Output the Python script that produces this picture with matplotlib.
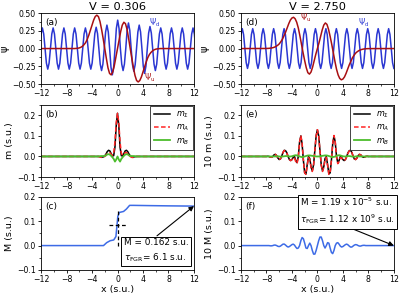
import numpy as np
import matplotlib
matplotlib.use("Agg")
import matplotlib.pyplot as plt
from matplotlib.ticker import MultipleLocator, AutoMinorLocator

# ---------------- data ----------------
titles = ["V = 0.306", "V = 2.750"]

# psi_d, sampled 8 times per period (first/last sample position given)
psi_d_a_span = (-12.645, 12.705)
psi_d_a = [
    -0.29, -0.205, 0.0, 0.205, 0.29, 0.205, 0.0, -0.205,
    -0.29, -0.205, 0.0, 0.205, 0.29, 0.205, 0.0, -0.205,
    -0.29, -0.205, 0.0, 0.205, 0.29, 0.205, 0.0, -0.205,
    -0.29, -0.205, 0.0, 0.205, 0.29, 0.205, 0.0, -0.205,
    -0.29, -0.205, 0.0, 0.205, 0.29, 0.205, 0.0, -0.205,
    -0.29, -0.205, 0.0, 0.212, 0.30, 0.212, 0.0, -0.219,
    -0.31, -0.219, 0.0, 0.233, 0.33, 0.233, 0.0, -0.262,
    -0.37, -0.262, 0.0, 0.283, 0.40, 0.283, 0.0, -0.219,
    -0.31, -0.219, 0.0, 0.255, 0.36, 0.255, 0.0, -0.226,
    -0.32, -0.226, 0.0, 0.233, 0.33, 0.233, 0.0, -0.247,
    -0.35, -0.247, 0.0, 0.219, 0.31, 0.219, 0.0, -0.219,
    -0.31, -0.219, 0.0, 0.205, 0.29, 0.205, 0.0, -0.205,
    -0.29, -0.205, 0.0, 0.205, 0.29, 0.205, 0.0, -0.205,
    -0.29, -0.205, 0.0, 0.205, 0.29, 0.205, 0.0, -0.205,
    -0.29, -0.205, 0.0, 0.205, 0.29, 0.205, 0.0, -0.205,
    -0.29,
]
psi_d_d_span = (-12.621, 12.009)
psi_d_d = [
    -0.28, -0.198, 0.0, 0.198, 0.28, 0.198, 0.0, -0.198,
    -0.28, -0.198, 0.0, 0.198, 0.28, 0.198, 0.0, -0.198,
    -0.28, -0.198, 0.0, 0.198, 0.28, 0.198, 0.0, -0.198,
    -0.28, -0.198, 0.0, 0.198, 0.28, 0.198, 0.0, -0.198,
    -0.28, -0.198, 0.0, 0.198, 0.28, 0.198, 0.0, -0.198,
    -0.28, -0.198, 0.0, 0.198, 0.28, 0.198, 0.0, -0.198,
    -0.28, -0.198, 0.0, 0.198, 0.28, 0.198, 0.0, -0.198,
    -0.28, -0.198, 0.0, 0.198, 0.28, 0.198, 0.0, -0.198,
    -0.28, -0.198, 0.0, 0.198, 0.28, 0.198, 0.0, -0.198,
    -0.28, -0.198, 0.0, 0.198, 0.28, 0.198, 0.0, -0.198,
    -0.28, -0.198, 0.0, 0.198, 0.28, 0.198, 0.0, -0.198,
    -0.28, -0.198, 0.0, 0.198, 0.28, 0.198, 0.0, -0.198,
    -0.28, -0.198, 0.0, 0.198, 0.28, 0.198, 0.0, -0.198,
    -0.28, -0.198, 0.0, 0.198, 0.28, 0.198, 0.0, -0.198,
    -0.28, -0.198, 0.0, 0.198, 0.28, 0.198, 0.0, -0.198,
    -0.28,
]

# psi_u on x = -12, -8, -7.75, ..., 8, 12
x_u = np.r_[-12, np.arange(-8, 8.001, 0.25), 12]
psi_u_a = [
    0.0,
    0.0, 0.0, 0.0, 0.0, 0.0, 0.0, 0.002, 0.004, 0.009, 0.018, 0.033, 0.055, 0.085,
    0.13, 0.19, 0.26, 0.33, 0.40, 0.45, 0.47, 0.45, 0.38, 0.27, 0.14, 0.0,
    -0.14, -0.27, -0.35, -0.37, -0.33, -0.24, -0.12,
    0.0,
    0.12, 0.24, 0.33, 0.37, 0.35, 0.27, 0.14, 0.0, -0.14, -0.27, -0.38, -0.45,
    -0.47, -0.45, -0.40, -0.33, -0.26, -0.19, -0.13, -0.085, -0.055, -0.033,
    -0.018, -0.009, -0.004, -0.002, 0.0, 0.0, 0.0, 0.0, 0.0, 0.0,
    0.0,
]
psi_u_d = [
    0.0,
    0.001, 0.002, 0.004, 0.007, 0.012, 0.019, 0.03, 0.045, 0.065, 0.095, 0.13,
    0.18, 0.23, 0.29, 0.35, 0.40, 0.43, 0.44, 0.42, 0.37, 0.29, 0.18, 0.06,
    -0.06, -0.17, -0.27, -0.34, -0.36, -0.33, -0.26, -0.17, -0.08,
    0.0,
    0.08, 0.17, 0.26, 0.33, 0.36, 0.34, 0.27, 0.17, 0.06, -0.06, -0.18, -0.29,
    -0.37, -0.42, -0.44, -0.43, -0.40, -0.35, -0.29, -0.23, -0.18, -0.13,
    -0.095, -0.065, -0.045, -0.03, -0.019, -0.012, -0.007, -0.004, -0.002,
    -0.001,
    0.0,
]

# magnetisation densities (b): x = -12, -3, -2.8, ..., 3, 12
x_b = np.r_[-12, np.arange(-3, 3.001, 0.2), 12]
m_sig_b = [0, 0, -0.001, -0.002, -0.003, -0.002, 0.003, 0.012, 0.024, 0.03,
           0.027, 0.014, 0.002, 0.004, 0.045, 0.15, 0.21, 0.15, 0.045, 0.004,
           0.002, 0.014, 0.027, 0.03, 0.024, 0.012, 0.003, -0.002, -0.003,
           -0.002, -0.001, 0, 0]
m_A_b = [0, 0, -0.002, -0.004, -0.005, -0.004, 0.0, 0.007, 0.014, 0.019,
         0.018, 0.011, 0.006, 0.016, 0.07, 0.165, 0.21, 0.165, 0.07, 0.016,
         0.006, 0.011, 0.018, 0.019, 0.014, 0.007, 0.0, -0.004, -0.005,
         -0.004, -0.002, 0, 0]
m_B_b = [0, 0, 0.001, 0.002, 0.002, 0.002, 0.003, 0.005, 0.01, 0.011,
         0.009, 0.003, -0.004, -0.012, -0.025, -0.015, 0.0, -0.015, -0.025,
         -0.012, -0.004, 0.003, 0.009, 0.011, 0.01, 0.005, 0.003, 0.002,
         0.002, 0.002, 0.001, 0, 0]

# (e): x = -12, -8, -7.8, ..., 8, 12
x_e = np.r_[-12, np.arange(-8, 8.001, 0.2), 12]
m_sig_e = [0,
           0.0, 0.001, 0.0, -0.003, -0.004, 0.0, 0.008, 0.01, 0.004, -0.008,
           -0.015, -0.012, 0.002, 0.02, 0.03, 0.028, 0.018, 0.0, -0.015, -0.02,
           -0.015, -0.005, 0.0, -0.02, -0.03, 0.0, 0.07, 0.10, 0.06, -0.02,
           -0.08, -0.085, -0.04, 0.0, -0.01, -0.05, -0.07, -0.04, 0.03, 0.10,
           0.13,
           0.10, 0.03, -0.04, -0.07, -0.05, -0.01, 0.0, -0.04, -0.085, -0.08,
           -0.02, 0.06, 0.10, 0.07, 0.0, -0.03, -0.02, 0.0, -0.005, -0.015,
           -0.02, -0.015, 0.0, 0.018, 0.028, 0.03, 0.02, 0.002, -0.012, -0.015,
           -0.008, 0.004, 0.01, 0.008, 0.0, -0.004, -0.003, 0.0, 0.001, 0.0,
           0]
m_A_e = [0,
         0.0, 0.001, 0.0, -0.003, -0.004, 0.0, 0.008, 0.01, 0.003, -0.009,
         -0.015, -0.011, 0.003, 0.02, 0.029, 0.026, 0.016, -0.001, -0.015, -0.02,
         -0.016, -0.008, -0.005, -0.026, -0.035, -0.003, 0.07, 0.102, 0.063, -0.018,
         -0.08, -0.087, -0.044, -0.005, -0.015, -0.054, -0.073, -0.042, 0.029, 0.10,
         0.13,
         0.10, 0.029, -0.042, -0.073, -0.054, -0.015, -0.005, -0.044, -0.087, -0.08,
         -0.018, 0.063, 0.102, 0.07, -0.003, -0.035, -0.026, -0.005, -0.008, -0.016,
         -0.02, -0.015, -0.001, 0.016, 0.026, 0.029, 0.02, 0.003, -0.011, -0.015,
         -0.009, 0.003, 0.01, 0.008, 0.0, -0.004, -0.003, 0.0, 0.001, 0.0,
         0]
m_B_e = [0,
         0.0, 0.0, 0.0, 0.0, 0.0, 0.0, 0.0, 0.0, 0.001, 0.001,
         0.0, -0.001, -0.001, 0.0, 0.001, 0.002, 0.002, 0.001, 0.0, 0.0,
         0.001, 0.003, 0.005, 0.006, 0.005, 0.003, 0.0, -0.002, -0.003, -0.002,
         0.0, 0.002, 0.004, 0.005, 0.005, 0.004, 0.003, 0.002, 0.001, 0.0,
         0.0,
         0.0, 0.001, 0.002, 0.003, 0.004, 0.005, 0.005, 0.004, 0.002, 0.0,
         -0.002, -0.003, -0.002, 0.0, 0.003, 0.005, 0.006, 0.005, 0.003, 0.001,
         0.0, 0.0, 0.001, 0.002, 0.002, 0.001, 0.0, -0.001, -0.001, 0.0,
         0.001, 0.001, 0.0, 0.0, 0.0, 0.0, 0.0, 0.0, 0.0, 0.0,
         0]

# integrated magnetisation (c)
x_c = [-12, -2.2, -1.7, -1.15, -0.6, -0.25, -0.1, 0.05, 0.3, 0.95, 1.4, 1.9,
       2.5, 5.0, 8.0, 12.0]
M_c = [0.0, 0.0, 0.012, 0.02, 0.023, 0.037, 0.078, 0.12, 0.136, 0.14, 0.15,
       0.165, 0.165, 0.164, 0.163, 0.162]
M_c_final = 0.162
tau_cross_x = 0.0
tau_cross_y = 0.085

# (f): x = -12, -8, ..., 8, 12
M_f = [0,
       0.0, 0.0, 0.0, -0.001, -0.001, 0.0, 0.002, 0.002, 0.0, -0.003,
       -0.004, -0.002, 0.002, 0.006, 0.006, 0.002, -0.003, -0.006, -0.004, 0.0,
       0.004, 0.006, 0.002, -0.006, -0.012, -0.01, 0.0, 0.02, 0.033, 0.028,
       0.01, -0.01, -0.012, 0.0, 0.01, 0.0, -0.02, -0.035, -0.035, -0.02,
       0.0,
       0.02, 0.035, 0.035, 0.02, 0.0, -0.01, 0.0, 0.012, 0.01, -0.01,
       -0.028, -0.033, -0.02, 0.0, 0.01, 0.012, 0.006, -0.002, -0.006, -0.004,
       0.0, 0.004, 0.006, 0.003, -0.002, -0.006, -0.006, -0.002, 0.002, 0.004,
       0.003, 0.0, -0.002, -0.002, 0.0, 0.001, 0.001, 0.0, 0.0, 0.0,
       0]
M_f_final = 0.0

box_c = "M = 0.162 s.u.\n" + r"$\tau_{\mathregular{FGR}}$= 6.1 s.u."
box_f = (r"M = 1.19 x 10$^{\mathregular{-5}}$ s.u." + "\n"
         + r"$\tau_{\mathregular{FGR}}$= 1.12 x 10$^{\mathregular{9}}$ s.u.")

C_BLUE = "#2a36d2"
C_RED = "#a80f12"
C_MLINE = "#3d6be6"
C_DASH = "#ff2424"
C_GREEN = "#4cbd2c"

# ---------------- figure ----------------
fig = plt.figure(figsize=(3.99, 2.96), dpi=100)

lefts = [0.103, 0.604]
width = 0.383
rows = [(0.716, 0.240), (0.402, 0.243), (0.088, 0.247)]


def style(ax, ylim, step):
    ax.set_xlim(-12, 12)
    ax.set_ylim(*ylim)
    ax.xaxis.set_major_locator(MultipleLocator(4))
    ax.xaxis.set_minor_locator(MultipleLocator(2))
    ax.yaxis.set_major_locator(MultipleLocator(step))
    ax.yaxis.set_minor_locator(AutoMinorLocator(2))
    ax.tick_params(labelsize=5.6, length=2.5, width=0.6, pad=1.2)
    ax.tick_params(which="minor", length=1.4, width=0.5)
    for s in ax.spines.values():
        s.set_linewidth(0.6)


axes = {}
for c, left in enumerate(lefts):
    for r, (bot, h) in enumerate(rows):
        axes[(r, c)] = fig.add_axes([left, bot, width, h])

panel = [["(a)", "(d)"], ["(b)", "(e)"], ["(c)", "(f)"]]
for (r, c), ax in axes.items():
    ax.text(0.025, 0.87, panel[r][c], transform=ax.transAxes, fontsize=6.5,
            va="center", ha="left")

# top row: wave functions
for c, (span, pd, pu) in enumerate([(psi_d_a_span, psi_d_a, psi_u_a),
                                     (psi_d_d_span, psi_d_d, psi_u_d)]):
    ax = axes[(0, c)]
    xd = np.linspace(span[0], span[1], len(pd))
    ax.plot(xd, pd, color=C_BLUE, lw=1.1)
    ax.plot(x_u, pu, color=C_RED, lw=1.1)
    style(ax, (-0.5, 0.5), 0.25)
    ax.set_ylabel("\u03c8", fontsize=7, labelpad=2)
    ax.set_title(titles[c], fontsize=8.2, pad=2.5)

psi_lab = dict(fontsize=5.6, va="center", ha="left")
axes[(0, 0)].text(4.9, 0.37, r"$\Psi_\mathregular{d}$", color=C_BLUE, **psi_lab)
axes[(0, 0)].text(4.2, -0.41, r"$\Psi_\mathregular{u}$", color=C_RED, **psi_lab)
axes[(0, 1)].text(-2.8, 0.44, r"$\Psi_\mathregular{u}$", color=C_RED, **psi_lab)
axes[(0, 1)].text(6.4, 0.36, r"$\Psi_\mathregular{d}$", color=C_BLUE, **psi_lab)

# middle row: densities
for c, (xx, ms, ma, mb, lab) in enumerate([(x_b, m_sig_b, m_A_b, m_B_b, "m (s.u.)"),
                                            (x_e, m_sig_e, m_A_e, m_B_e, "10 m (s.u.)")]):
    ax = axes[(1, c)]
    ax.plot(xx, ms, color="black", lw=1.1, label=r"$m_\Sigma$")
    ax.plot(xx, ma, color=C_DASH, lw=1.1, ls=(0, (3, 1.6)), label=r"$m_A$")
    ax.plot(xx, mb, color=C_GREEN, lw=1.3, label=r"$m_B$")
    style(ax, (-0.1, 0.25), 0.1)
    ax.set_ylabel(lab, fontsize=6.8, labelpad=2)
    leg = ax.legend(loc="upper right", fontsize=5.8, handlelength=2.0,
                    handletextpad=0.8, labelspacing=0.35, borderpad=0.4,
                    borderaxespad=0.15, fancybox=False, framealpha=1)
    leg.get_frame().set_edgecolor("0.15")
    leg.get_frame().set_linewidth(0.6)

# bottom row: integrated magnetisation
ax = axes[(2, 0)]
ax.plot(x_c, M_c, color=C_MLINE, lw=1.1)
ax.plot([tau_cross_x, tau_cross_x], [0.0, 0.148], color="black", lw=0.9,
        ls=(0, (3, 2)))
ax.plot([-1.4, 1.5], [tau_cross_y, tau_cross_y], color="black", lw=0.9,
        ls=(0, (3, 2)))
style(ax, (-0.1, 0.2), 0.1)
ax.set_ylabel("M (s.u.)", fontsize=6.8, labelpad=2)
ax.set_xlabel("x (s.u.)", fontsize=6.8, labelpad=1)
ax.annotate("", xy=(12, M_c_final), xytext=(6.2, 0.04),
            arrowprops=dict(arrowstyle="-|>", color="black", lw=0.8,
                            mutation_scale=7, shrinkA=0, shrinkB=0))
ax.text(1.0, -0.021, box_c, fontsize=6.4, ha="left", va="center",
        linespacing=1.5,
        bbox=dict(boxstyle="square,pad=0.3", fc="white", ec="black", lw=0.7))

ax = axes[(2, 1)]
ax.plot(x_e, M_f, color=C_MLINE, lw=1.1)
style(ax, (-0.1, 0.2), 0.1)
ax.set_ylabel("10 M (s.u.)", fontsize=6.8, labelpad=2)
ax.set_xlabel("x (s.u.)", fontsize=6.8, labelpad=1)
ax.annotate("", xy=(12, M_f_final), xytext=(3.5, 0.09),
            arrowprops=dict(arrowstyle="-|>", color="black", lw=0.8,
                            mutation_scale=7, shrinkA=0, shrinkB=0))
ax.text(-2.7, 0.141, box_f, fontsize=6.4, ha="left", va="center",
        linespacing=1.4,
        bbox=dict(boxstyle="square,pad=0.3", fc="white", ec="black", lw=0.7))

fig.savefig("out.png", dpi=100)
